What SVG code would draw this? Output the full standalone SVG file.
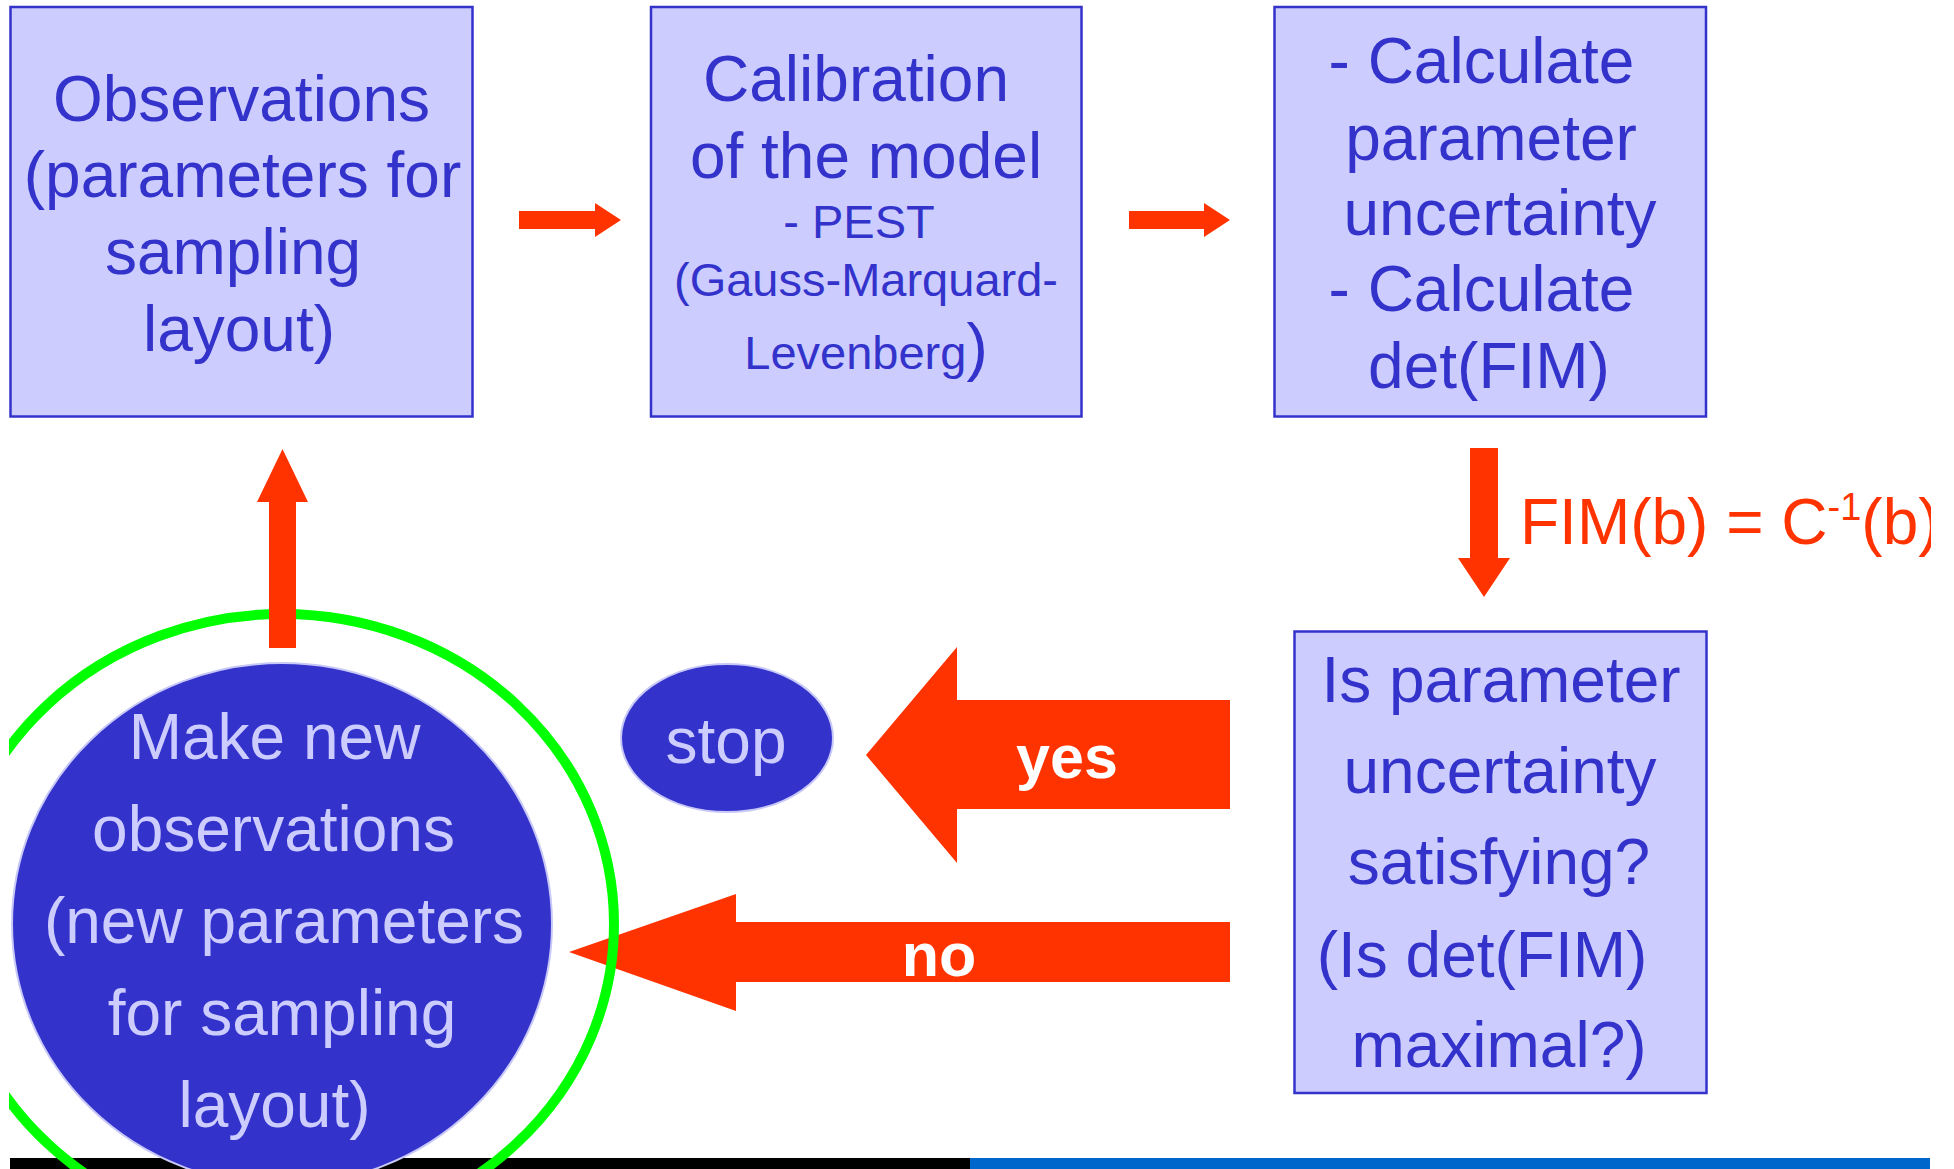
<svg xmlns="http://www.w3.org/2000/svg" width="1954" height="1169" viewBox="0 0 1954 1169">
  <style>
    .box { fill: #ccccff; stroke: #3333cc; stroke-width: 2.5; }
    .bt { font-family: "Liberation Sans", Arial, sans-serif; fill: #3333cc; text-anchor: middle; }
    .ct { font-family: "Liberation Sans", Arial, sans-serif; fill: #ccccff; text-anchor: middle; font-size: 64px; }
    .arrow { fill: #ff3300; }
    .lab { font-family: "Liberation Sans", Arial, sans-serif; fill: #ffffff; font-weight: bold; text-anchor: middle; font-size: 61px; }
    .oval { fill: #3333cc; stroke: #c8c8f8; stroke-width: 2; }
  </style>
  <defs>
    <clipPath id="slide">
      <rect x="9" y="0" width="1922" height="1169"/>
    </clipPath>
  </defs>
  <rect width="1954" height="1169" fill="#ffffff"/>

  <!-- footer bar -->
  <g id="footer">
    <rect x="10" y="1158" width="960" height="11" fill="#000000"/>
    <rect x="970" y="1158" width="960" height="11" fill="#0066cc"/>
  </g>

  <g id="observations">
    <rect class="box" x="10.5" y="7" width="462" height="409.5"/>
    <text class="bt" font-size="64" x="241.5" y="121">Observations</text>
    <text class="bt" font-size="64" x="242.5" y="197">(parameters for</text>
    <text class="bt" font-size="64" x="233" y="274">sampling</text>
    <text class="bt" font-size="64" x="239" y="351">layout)</text>
  </g>

  <g id="calibration">
    <rect class="box" x="651" y="7" width="430.5" height="409.5"/>
    <text class="bt" font-size="64" x="856" y="101">Calibration</text>
    <text class="bt" font-size="64" x="866" y="178">of the model</text>
    <text class="bt" font-size="47" x="859" y="238">- PEST</text>
    <text class="bt" font-size="47" x="866" y="296">(Gauss-Marquard-</text>
    <text class="bt" font-size="47" x="866" y="369">Levenberg<tspan font-size="64">)</tspan></text>
  </g>

  <g id="uncertainty">
    <rect class="box" x="1274.5" y="7" width="431.5" height="409.5"/>
    <text class="bt" font-size="64" x="1481.5" y="83">- Calculate</text>
    <text class="bt" font-size="64" x="1491" y="160">parameter</text>
    <text class="bt" font-size="64" x="1500" y="235">uncertainty</text>
    <text class="bt" font-size="64" x="1481.5" y="311">- Calculate</text>
    <text class="bt" font-size="64" x="1489" y="388">det(FIM)</text>
  </g>

  <g id="decision">
    <rect class="box" x="1294.5" y="631.5" width="412" height="461.5"/>
    <text class="bt" font-size="64" x="1501" y="702">Is parameter</text>
    <text class="bt" font-size="64" x="1500" y="793">uncertainty</text>
    <text class="bt" font-size="64" x="1499" y="884">satisfying?</text>
    <text class="bt" font-size="64" x="1482" y="977">(Is det(FIM)</text>
    <text class="bt" font-size="64" x="1499" y="1067">maximal?)</text>
  </g>

  <g id="stop">
    <ellipse class="oval" cx="727" cy="738" rx="106" ry="74"/>
    <text class="ct" font-size="62" x="726" y="763">stop</text>
  </g>

  <g id="connectors">
    <polygon class="arrow" points="519,211 595,211 595,203 621,220 595,237 595,229 519,229"/>
    <polygon class="arrow" points="1129,211 1204,211 1204,203 1230,220 1204,237 1204,229 1129,229"/>
    <polygon class="arrow" points="1470,448 1498,448 1498,558 1510,558 1484,597 1458,558 1470,558"/>
    <g clip-path="url(#slide)">
      <text font-family="Liberation Sans, Arial, sans-serif" font-size="64" fill="#ff3300" x="1520" y="544">FIM(b) = C<tspan font-size="38" dy="-24">-1</tspan><tspan dy="24">(b)</tspan></text>
    </g>
    <polygon class="arrow" points="1230,700 957,700 957,647 866,755 957,863 957,809 1230,809"/>
    <text class="lab" x="1067" y="778">yes</text>
    <polygon class="arrow" points="1230,922 736,922 736,894 569,952 736,1011 736,982 1230,982"/>
    <text class="lab" x="939" y="976">no</text>
  </g>

  <g id="new-observations" clip-path="url(#slide)">
    <ellipse class="oval" cx="282" cy="924" rx="270" ry="261"/>
    <text class="ct" x="274.5" y="759">Make new</text>
    <text class="ct" x="273.5" y="851">observations</text>
    <text class="ct" x="284" y="943">(new parameters</text>
    <text class="ct" x="282" y="1035">for sampling</text>
    <text class="ct" x="274.5" y="1127">layout)</text>
    <ellipse cx="282" cy="924" rx="332" ry="310" fill="none" stroke="#00ff00" stroke-width="10"/>
  </g>

  <g id="loop-back">
    <polygon class="arrow" points="269,648 269,502 257,502 282.5,449 308,502 296,502 296,648"/>
  </g>
</svg>
